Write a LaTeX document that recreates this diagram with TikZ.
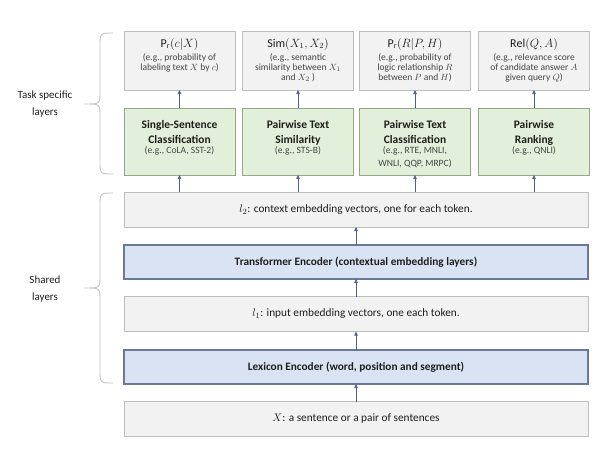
\documentclass[tikz,border=0pt]{standalone}
\usepackage{fontspec}
\setmainfont{Carlito}
\usetikzlibrary{arrows.meta}
\definecolor{boxgray}{HTML}{F2F2F2}
\definecolor{bordgray}{HTML}{BDBDBD}
\definecolor{grnfill}{HTML}{E2EFDA}
\definecolor{grnbord}{HTML}{8FA880}
\definecolor{blufill}{HTML}{DAE3F3}
\definecolor{blubord}{HTML}{6A7A96}
\definecolor{arrowc}{HTML}{4F6189}
\definecolor{txt}{HTML}{1E1E1E}
\definecolor{subtxt}{HTML}{454545}
\definecolor{bracec}{HTML}{C4C4C4}
\newcommand{\topcontent}[2]{\parbox[c][50pt][t]{108pt}{\vspace*{2.5pt}\centering\fontsize{12}{14}\selectfont #1\par\vspace{3.5pt}\fontsize{9.5}{10}\selectfont\color{subtxt}#2\par}}
\newcommand{\grncontent}[2]{\parbox[c][58pt][t]{108pt}{\vspace*{7.5pt}\centering\bfseries\fontsize{11.5}{15}\selectfont #1\par\vspace{-2.5pt}\mdseries\fontsize{9.6}{13}\selectfont\color{subtxt}#2\par}}
\begin{document}
\begin{tikzpicture}[x=1pt,y=-1pt,
  base/.style={rectangle, inner sep=0pt, outer sep=0pt, align=center, text=txt},
  topbox/.style={base, fill=boxgray, draw=bordgray, line width=0.8pt, minimum width=111pt, minimum height=59pt},
  grnbox/.style={base, fill=grnfill, draw=grnbord, line width=1pt, minimum width=111pt, minimum height=67pt},
  widebox/.style={base, fill=boxgray, draw=bordgray, line width=0.8pt, minimum width=464pt, minimum height=35pt, font=\fontsize{11.3}{13}\selectfont},
  encbox/.style={base, fill=blufill, draw=blubord, line width=1.4pt, minimum width=464pt, minimum height=34pt, font=\bfseries\fontsize{11.3}{13}\selectfont},
  arr/.style={draw=arrowc, line width=0.7pt, -{Triangle[length=4pt,width=3.5pt]}},
  sidelabel/.style={align=center, text=txt, font=\fontsize{11}{17}\selectfont},
  bracestyle/.style={draw=bracec, line width=0.9pt}
]
\useasboundingbox (0,0) rectangle (595,453);

% task-specific outputs
\node[topbox] (t1) at (179.5,60.5) {\topcontent{$\mathrm{P_r}(c|X)$}{(e.g., probability of\\ labeling text $X$ by $c$)}};
\node[topbox] (t2) at (298,60.5) {\topcontent{$\mathrm{Sim}(X_1,X_2)$}{(e.g., semantic\\ similarity between $X_1$\\ and $X_2$ )}};
\node[topbox] (t3) at (415,60.5) {\topcontent{$\mathrm{P_r}(R|P,H)$}{(e.g., probability of\\ logic relationship $R$\\ between $P$ and $H$)}};
\node[topbox] (t4) at (534,60.5) {\topcontent{$\mathrm{Rel}(Q,A)$}{(e.g., relevance score\\ of candidate answer $A$\\ given query $Q$)}};

% task layers
\node[grnbox] (g1) at (179.5,141.5) {\grncontent{Single-Sentence\\Classification}{(e.g., CoLA, SST-2)}};
\node[grnbox] (g2) at (298,141.5) {\grncontent{Pairwise Text\\Similarity}{(e.g., STS-B)}};
\node[grnbox] (g3) at (415,141.5) {\grncontent{Pairwise Text\\Classification}{(e.g., RTE, MNLI,\\ WNLI, QQP, MRPC)}};
\node[grnbox] (g4) at (534,141.5) {\grncontent{Pairwise\\Ranking}{(e.g., QNLI)}};

% shared layers
\node[widebox] (l2) at (356,209.5) {$l_2$: context embedding vectors, one for each token.};
\node[encbox] (tenc) at (356,262) {Transformer Encoder (contextual embedding layers)};
\node[widebox] (l1) at (356,314) {$l_1$: input embedding vectors, one each token.};
\node[encbox] (lex) at (356,367) {Lexicon Encoder (word, position and segment)};
\node[widebox] (xin) at (356,419) {$X$: a sentence or a pair of sentences};

% arrows
\foreach \i in {1,2,3,4} {
  \draw[arr] (g\i.north) -- (t\i.south);
  \draw[arr] (l2.north -| g\i.south) -- (g\i.south);
}
\draw[arr] (tenc.north) -- (l2.south);
\draw[arr] (l1.north) -- (tenc.south);
\draw[arr] (lex.north) -- (l1.south);
\draw[arr] (xin.north) -- (lex.south);

% braces
\draw[bracestyle] (113,33) .. controls (100,33) .. (100,46) -- (100,92) .. controls (100,104) .. (84,104)
  .. controls (100,104) .. (100,116) -- (100,161) .. controls (100,174) .. (113,174);
\draw[bracestyle] (113,193) .. controls (100,193) .. (100,206) -- (100,276) .. controls (100,288) .. (84,288)
  .. controls (100,288) .. (100,300) -- (100,370) .. controls (100,383) .. (113,383);

\node[sidelabel] (tsl) at (45,104) {Task specific\\layers};
\node[sidelabel] (shl) at (45,289) {Shared\\layers};
\end{tikzpicture}
\end{document}
